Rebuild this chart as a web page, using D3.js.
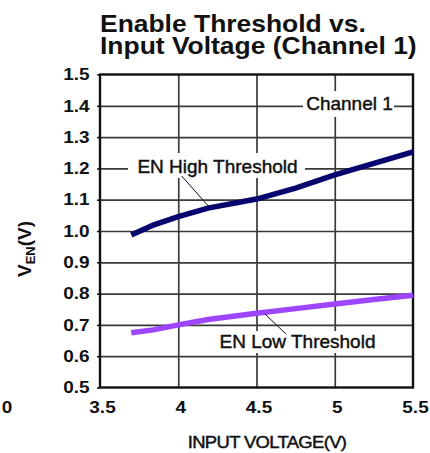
<!DOCTYPE html>
<html>
<head>
<meta charset="utf-8">
<script src="https://cdn.jsdelivr.net/npm/d3@7"></script>
<style>
  body { margin: 0; background: #fff; }
  svg { display: block; font-family: Arial, "Liberation Sans", sans-serif; }
</style>
</head>
<body>
<div id="chart"></div>
<script>
// values
const vin = [3.7, 3.84, 4.0, 4.19, 4.5, 4.75, 5.0, 5.25, 5.5];
const enHigh = [0.987, 1.019, 1.046, 1.073, 1.102, 1.137, 1.179, 1.216, 1.253];
const enLow = [0.675, 0.684, 0.700, 0.717, 0.737, 0.752, 0.767, 0.781, 0.795];
const xTicks = [3.5, 4, 4.5, 5, 5.5];
const yTicks = [0.5, 0.6, 0.7, 0.8, 0.9, 1.0, 1.1, 1.2, 1.3, 1.4, 1.5];
const titleLines = ["Enable Threshold vs.", "Input Voltage (Channel 1)"];

const width = 430, height = 453;
const plotL = 100, plotR = 413, plotT = 74.5, plotB = 387.5;

const svg = d3.select("#chart").append("svg")
  .attr("width", width)
  .attr("height", height);

const x = d3.scaleLinear().domain([3.5, 5.5]).range([plotL, plotR]);
const y = d3.scaleLinear().domain([0.5, 1.5]).range([plotB, plotT]);

// grid
svg.append("g")
  .attr("transform", `translate(0,${plotT})`)
  .call(d3.axisBottom(x).tickValues(xTicks.slice(1, -1)).tickSize(plotB - plotT).tickFormat(""))
  .call(g => g.select(".domain").remove())
  .selectAll("line").attr("stroke", "#3a3a3a").attr("stroke-width", 1.7);

svg.append("g")
  .attr("transform", `translate(${plotL},0)`)
  .call(d3.axisRight(y).tickValues(yTicks.slice(1, -1)).tickSize(plotR - plotL).tickFormat(""))
  .call(g => g.select(".domain").remove())
  .selectAll("line").attr("stroke", "#3a3a3a").attr("stroke-width", 1.7);

// frame
svg.append("rect")
  .attr("x", plotL).attr("y", plotT)
  .attr("width", plotR - plotL).attr("height", plotB - plotT)
  .attr("fill", "none").attr("stroke", "#111").attr("stroke-width", 2.4);

// axes labels
const yAxis = svg.append("g")
  .attr("transform", `translate(${plotL},0)`)
  .call(d3.axisLeft(y).tickValues(yTicks).tickSize(3).tickPadding(6).tickFormat(d3.format(".1f")));
yAxis.select(".domain").remove();
yAxis.selectAll("line").attr("stroke", "#111").attr("stroke-width", 1.5);
yAxis.selectAll("text")
  .attr("font-size", 16.5).attr("font-weight", "bold").attr("fill", "#111")
  .attr("font-family", "Arial, 'Liberation Sans', sans-serif")
  .attr("transform", "scale(1.15,1)");

const xAxis = svg.append("g")
  .attr("transform", `translate(${2},${plotB})`)
  .call(d3.axisBottom(x).tickValues(xTicks).tickSize(0).tickPadding(14).tickFormat(d => String(d)));
xAxis.select(".domain").remove();
xAxis.selectAll("text")
  .attr("font-size", 16.5).attr("font-weight", "bold").attr("fill", "#111")
  .attr("font-family", "Arial, 'Liberation Sans', sans-serif")
  .attr("transform", "scale(1.15,1)");

// stray "0" at far left of x labels
svg.append("text")
  .attr("transform", "translate(7,413) scale(1.15,1)")
  .attr("text-anchor", "middle")
  .attr("font-size", 16.5).attr("font-weight", "bold").attr("fill", "#111")
  .text("0");

// curves
const line = d3.line().x((d, i) => x(vin[i])).y(d => y(d));

svg.append("path").datum(enHigh)
  .attr("d", line)
  .attr("fill", "none").attr("stroke", "#06066e").attr("stroke-width", 5.5);

svg.append("path").datum(enLow)
  .attr("d", line)
  .attr("fill", "none").attr("stroke", "#9d45ff").attr("stroke-width", 5.5);

// annotations
function label(text, cx, baseline, box, lead) {
  svg.append("rect")
    .attr("x", box[0]).attr("y", box[1])
    .attr("width", box[2]).attr("height", box[3])
    .attr("fill", "#fff");
  svg.append("text")
    .attr("x", cx).attr("y", baseline)
    .attr("text-anchor", "middle")
    .attr("font-size", 19).attr("fill", "#111")
    .attr("stroke", "#111").attr("stroke-width", 0.45)
    .text(text);
  if (lead) {
    svg.append("line")
      .attr("x1", lead[0]).attr("y1", lead[1])
      .attr("x2", lead[2]).attr("y2", lead[3])
      .attr("stroke", "#111").attr("stroke-width", 1);
  }
}

label("Channel 1", 349.5, 110, [303, 91, 91, 26]);
label("EN High Threshold", 217.5, 173, [128, 153, 177, 25], [181.7, 176, 208.3, 206]);
label("EN Low Threshold", 297.5, 348, [214, 331, 168, 22], [265, 314, 286, 334]);

// title
const title = svg.append("g").attr("font-size", 23).attr("font-weight", "bold").attr("fill", "#111");
titleLines.forEach((t, i) => {
  title.append("text")
    .attr("transform", `translate(100,${31.5 + i * 22}) scale(1.15,1)`)
    .text(t);
});

// axis titles
svg.append("text")
  .attr("transform", "translate(267,448) scale(1.12,1)")
  .attr("text-anchor", "middle")
  .attr("font-size", 16.5).attr("letter-spacing", -0.6).attr("fill", "#111")
  .attr("stroke", "#111").attr("stroke-width", 0.45)
  .text("INPUT VOLTAGE(V)");

const yl = svg.append("text")
  .attr("transform", "translate(31,249) rotate(-90)")
  .attr("text-anchor", "middle")
  .attr("font-size", 19).attr("font-weight", "bold").attr("fill", "#111");
yl.append("tspan").text("V");
yl.append("tspan").attr("font-size", 13).attr("dy", 4).text("EN");
yl.append("tspan").attr("dy", -4).text("(V)");
</script>
</body>
</html>
